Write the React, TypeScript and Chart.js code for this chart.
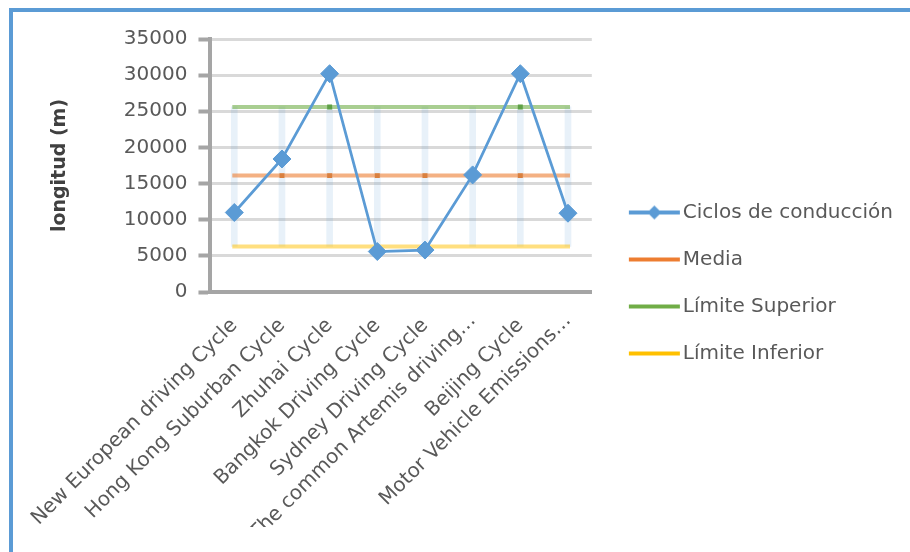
import React, { useEffect, useRef } from 'react';
import { Chart, registerables } from 'chart.js';

Chart.register(...registerables);

// ---- data ----
const categories: string[] = [
  'New European driving Cycle',
  'Hong Kong Suburban Cycle',
  'Zhuhai Cycle',
  'Bangkok Driving Cycle',
  'Sydney Driving Cycle',
  'The common Artemis driving…',
  'Beijing Cycle',
  'Motor Vehicle Emissions…',
];
const cycleLengths: number[] = [11000, 18400, 30200, 5600, 5800, 16200, 30200, 10900];
const mediaValues: number[] = [16100, 16100, 16100, 16100, 16100, 16100, 16100, 16100];
const upperLimit: number[] = [25600, 25600, 25600, 25600, 25600, 25600, 25600, 25600];
const lowerLimit: number[] = [6300, 6300, 6300, 6300, 6300, 6300, 6300, 6300];
const seriesNames: string[] = ['Ciclos de conducción', 'Media', 'Límite Superior', 'Límite Inferior'];
const yAxisTitle = 'longitud (m)';
const yMin = 0;
const yMax = 35000;
const yStep = 5000;

const FONT = 'DejaVu Sans';

function makeLegendImage(color: string, withMarker: boolean): HTMLCanvasElement {
  const c = document.createElement('canvas');
  c.width = 70;
  c.height = 20;
  const ctx = c.getContext('2d')!;
  ctx.strokeStyle = color;
  ctx.lineWidth = 4;
  ctx.beginPath();
  ctx.moveTo(18, 10);
  ctx.lineTo(69, 10);
  ctx.stroke();
  if (withMarker) {
    const cx = 43.5;
    const r = 7;
    ctx.fillStyle = color;
    ctx.beginPath();
    ctx.moveTo(cx - r, 10);
    ctx.lineTo(cx, 10 - r);
    ctx.lineTo(cx + r, 10);
    ctx.lineTo(cx, 10 + r);
    ctx.closePath();
    ctx.fill();
  }
  return c;
}

export default function App() {
  const ref = useRef<HTMLCanvasElement | null>(null);

  useEffect(() => {
    if (!ref.current) return;
    const legendImgs = [
      makeLegendImage('#5B9BD5', true),
      makeLegendImage('#ED7D31', false),
      makeLegendImage('#70AD47', false),
      makeLegendImage('#FFC000', false),
    ];
    const chart = new Chart(ref.current, {
      type: 'line',
      data: {
        labels: categories,
        datasets: [
          {
            label: seriesNames[0],
            data: cycleLengths,
            borderColor: '#5B9BD5',
            backgroundColor: '#5B9BD5',
            borderWidth: 2.75,
            pointStyle: 'rectRot',
            pointRadius: 9,
            pointBorderWidth: 1,
            pointBackgroundColor: '#5B9BD5',
            pointBorderColor: '#5B9BD5',
            tension: 0,
            order: 0,
          } as any,
          {
            label: seriesNames[1],
            data: mediaValues,
            borderColor: 'rgba(237,125,49,0.6)',
            backgroundColor: '#D9803F',
            borderWidth: 4,
            borderCapStyle: 'square',
            pointStyle: 'rect',
            pointRadius: [0, 3.5, 3.5, 3.5, 3.5, 3.5, 3.5, 0],
            pointBorderWidth: 0,
            pointBackgroundColor: '#D9803F',
            order: 2,
          } as any,
          {
            label: seriesNames[2],
            data: upperLimit,
            borderColor: 'rgba(112,173,71,0.6)',
            backgroundColor: '#5FA146',
            borderWidth: 4,
            borderCapStyle: 'square',
            pointStyle: 'rect',
            pointRadius: [0, 0, 3.5, 0, 0, 0, 3.5, 0],
            pointBorderWidth: 0,
            pointBackgroundColor: '#5FA146',
            order: 3,
          } as any,
          {
            label: seriesNames[3],
            data: lowerLimit,
            borderColor: 'rgba(255,192,0,0.5)',
            backgroundColor: 'rgba(255,192,0,0.5)',
            borderWidth: 4,
            borderCapStyle: 'square',
            pointRadius: 0,
            order: 4,
          } as any,
          {
            type: 'bar',
            label: 'range',
            data: lowerLimit.map((lo, i) => [lo, upperLimit[i]]),
            backgroundColor: 'rgba(91,155,213,0.14)',
            borderWidth: 0,
            barThickness: 6,
            order: 5,
          } as any,
        ],
      },
      options: {
        animation: false,
        responsive: false,
        layout: { padding: { left: 42, top: 39, bottom: 25, right: 7 } },
        plugins: {
          tooltip: { enabled: false },
          legend: {
            position: 'right',
            maxWidth: 420,
            labels: {
              usePointStyle: true,
              pointStyleWidth: 54,
              padding: 27,
              color: '#595959',
              font: { family: FONT, size: 20 },
              generateLabels: () =>
                seriesNames.map((name, i) => ({
                  text: name,
                  pointStyle: legendImgs[i],
                  datasetIndex: i,
                  hidden: false,
                  lineWidth: 0,
                  fillStyle: 'transparent',
                  strokeStyle: 'transparent',
                  fontColor: '#595959',
                })) as any,
            },
          },
        },
        scales: {
          x: {
            offset: true,
            afterFit: (s: any) => {
              s.height = 235;
            },
            grid: { display: false, drawTicks: false },
            border: { display: true, color: '#A5A5A5', width: 4 },
            ticks: {
              autoSkip: false,
              minRotation: 45,
              maxRotation: 45,
              padding: 22,
              color: '#595959',
              font: (ctx: any) => ({
                family: FONT,
                size: 20,
                lineHeight: String(categories[ctx.index] || '').endsWith('…') ? 0.5 : 1.2,
              }),
            },
          },
          y: {
            min: yMin,
            max: yMax,
            afterFit: (s: any) => {
              s.width = 166;
            },
            grid: {
              color: '#D9D9D9',
              lineWidth: 3,
              tickColor: '#A5A5A5',
              tickWidth: 4,
              tickLength: 12,
            },
            border: { display: true, color: '#A5A5A5', width: 4 },
            ticks: {
              stepSize: yStep,
              padding: 11,
              color: '#595959',
              font: { family: FONT, size: 20 },
              callback: (v: any) => String(v),
            },
            title: {
              display: true,
              text: yAxisTitle,
              color: '#404040',
              font: { family: FONT, size: 19, weight: 'bold' },
              padding: { top: 4, bottom: 0 },
            },
          },
        },
      },
    });
    return () => chart.destroy();
  }, []);

  return (
    <div style={{ position: 'absolute', left: 0, top: 0, width: 910, height: 552, background: '#fff' }}>
      <canvas ref={ref} width={910} height={552} style={{ position: 'absolute', left: 0, top: 0 }} />
      <div
        style={{
          position: 'absolute',
          left: 9,
          top: 8,
          width: 901,
          height: 544,
          boxSizing: 'border-box',
          borderLeft: '4px solid #5B9BD5',
          borderTop: '4px solid #5B9BD5',
          pointerEvents: 'none',
        }}
      />
    </div>
  );
}
